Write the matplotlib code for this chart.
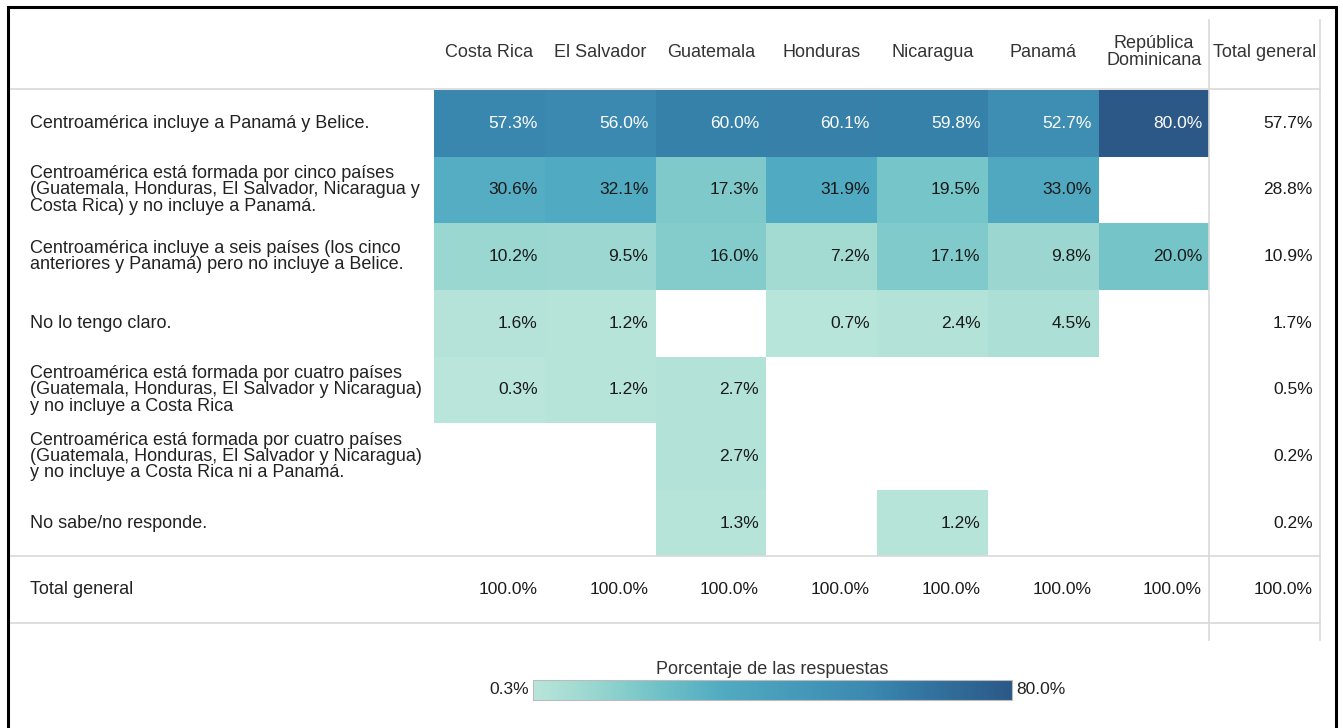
import numpy as np
import matplotlib
matplotlib.use("Agg")
from matplotlib import pyplot as plt
from matplotlib.colors import LinearSegmentedColormap, Normalize
from matplotlib.patches import Rectangle
from matplotlib.transforms import blended_transform_factory

plt.rcParams['font.family'] = ['Liberation Sans', 'DejaVu Sans']

paises = ['Costa Rica', 'El Salvador', 'Guatemala', 'Honduras', 'Nicaragua',
          'Panamá', 'República\nDominicana']
respuestas = [
    'Centroamérica incluye a Panamá y Belice.',
    'Centroamérica está formada por cinco países\n(Guatemala, Honduras, El Salvador, Nicaragua y\nCosta Rica) y no incluye a Panamá.',
    'Centroamérica incluye a seis países (los cinco\nanteriores y Panamá) pero no incluye a Belice.',
    'No lo tengo claro.',
    'Centroamérica está formada por cuatro países\n(Guatemala, Honduras, El Salvador y Nicaragua)\ny no incluye a Costa Rica',
    'Centroamérica está formada por cuatro países\n(Guatemala, Honduras, El Salvador y Nicaragua)\ny no incluye a Costa Rica ni a Panamá.',
    'No sabe/no responde.',
]
nan = np.nan
valores = np.array([
    [57.3, 56.0, 60.0, 60.1, 59.8, 52.7, 80.0],
    [30.6, 32.1, 17.3, 31.9, 19.5, 33.0, nan],
    [10.2, 9.5, 16.0, 7.2, 17.1, 9.8, 20.0],
    [1.6, 1.2, nan, 0.7, 2.4, 4.5, nan],
    [0.3, 1.2, 2.7, nan, nan, nan, nan],
    [nan, nan, 2.7, nan, nan, nan, nan],
    [nan, nan, 1.3, nan, 1.2, nan, nan],
])
total_fila = [57.7, 28.8, 10.9, 1.7, 0.5, 0.2, 0.2]
total_col = [100.0] * 7
total_total = 100.0

vmin, vmax = 0.3, 80.0
anclas = [(0.3, '#b9e5da'), (10, '#9ad7d0'), (20, '#74c4c8'), (32, '#50aac1'),
          (57, '#3a88b0'), (61, '#357ea8'), (80, '#2b5887')]
cmap = LinearSegmentedColormap.from_list(
    'tab', [((v - vmin) / (vmax - vmin), c) for v, c in anclas])
norm = Normalize(vmin, vmax)

W, H = 1343, 728
fig = plt.figure(figsize=(W / 100, H / 100), dpi=100)

def fx(px):
    return px / W

def fy(py):
    return 1 - py / H

# heatmap axes: columns 0..8 (7 countries + total), rows 0..8 (7 + total)
x0, x1, y0, y1 = 434, 1320, 90, 623
ax = fig.add_axes([fx(x0), fy(y1), fx(x1 - x0), (y1 - y0) / H])
ax.set_xlim(0, 8)
ax.set_ylim(8, 0)
ax.axis('off')

masked = np.ma.masked_invalid(valores)
ax.pcolormesh(np.arange(8), np.arange(8), masked, cmap=cmap, norm=norm,
              edgecolor='none')

gris = '#d9d9d9'
fs = 13
fsv = 12.5
pad = 0.065
for i in range(7):
    for j in range(7):
        v = valores[i, j]
        if np.isnan(v):
            continue
        col = 'white' if v > 45 else '#1a1a1a'
        ax.text(j + 1 - pad, i + 0.5, f'{v:.1f}%', ha='right', va='center',
                fontsize=fsv, color=col)
    ax.text(8 - pad, i + 0.5, f'{total_fila[i]:.1f}%', ha='right',
            va='center', fontsize=fsv, color='#1a1a1a')
for j in range(7):
    ax.text(j + 1 - pad, 7.5, f'{total_col[j]:.1f}%', ha='right',
            va='center', fontsize=fsv, color='#1a1a1a')
ax.text(8 - pad, 7.5, f'{total_total:.1f}%', ha='right', va='center',
        fontsize=fsv, color='#1a1a1a')

# headers
for j, p in enumerate(paises + ['Total general']):
    ax.text(j + 0.5, -0.57, p, ha='center', va='center', fontsize=fs,
            color='#333333', linespacing=0.95, clip_on=False)

# row labels
tr = blended_transform_factory(fig.transFigure, ax.transData)
for i, r in enumerate(respuestas + ['Total general']):
    ax.text(fx(30), i + 0.5, r, transform=tr, ha='left', va='center',
            fontsize=fs, color='#222222', linespacing=0.95)

# grid lines
for yy in (0, 7, 8):
    ax.plot([fx(10), fx(1320)], [yy - 0.02 if yy == 0 else yy] * 2,
            transform=tr, color=gris, lw=1.2, clip_on=False)
for xx in (7, 8):
    ax.plot([xx, xx], [-1.05, 8.25], color=gris, lw=1.2, clip_on=False)

# colorbar
cax = fig.add_axes([fx(533), fy(700), fx(1012 - 533), 20 / H])
cb = fig.colorbar(plt.cm.ScalarMappable(norm=norm, cmap=cmap), cax=cax,
                  orientation='horizontal')
cb.set_ticks([])
cb.outline.set_edgecolor('#bbbbbb')
cb.outline.set_linewidth(0.8)
cax.text(-0.008, 0.5, f'{vmin:.1f}%', transform=cax.transAxes, ha='right',
         va='center', fontsize=fsv, color='#222222')
cax.text(1.008, 0.5, f'{vmax:.1f}%', transform=cax.transAxes, ha='left',
         va='center', fontsize=fsv, color='#222222')
cax.text(0.5, 1.12, 'Porcentaje de las respuestas', transform=cax.transAxes,
         ha='center', va='bottom', fontsize=fs, color='#333333')

# outer frame
fig.patches.append(Rectangle((fx(8), fy(740)), fx(1336 - 8), (740 - 7) / H,
                             transform=fig.transFigure, fill=False,
                             edgecolor='black', lw=2.2))

fig.savefig('out.png', dpi=100)
